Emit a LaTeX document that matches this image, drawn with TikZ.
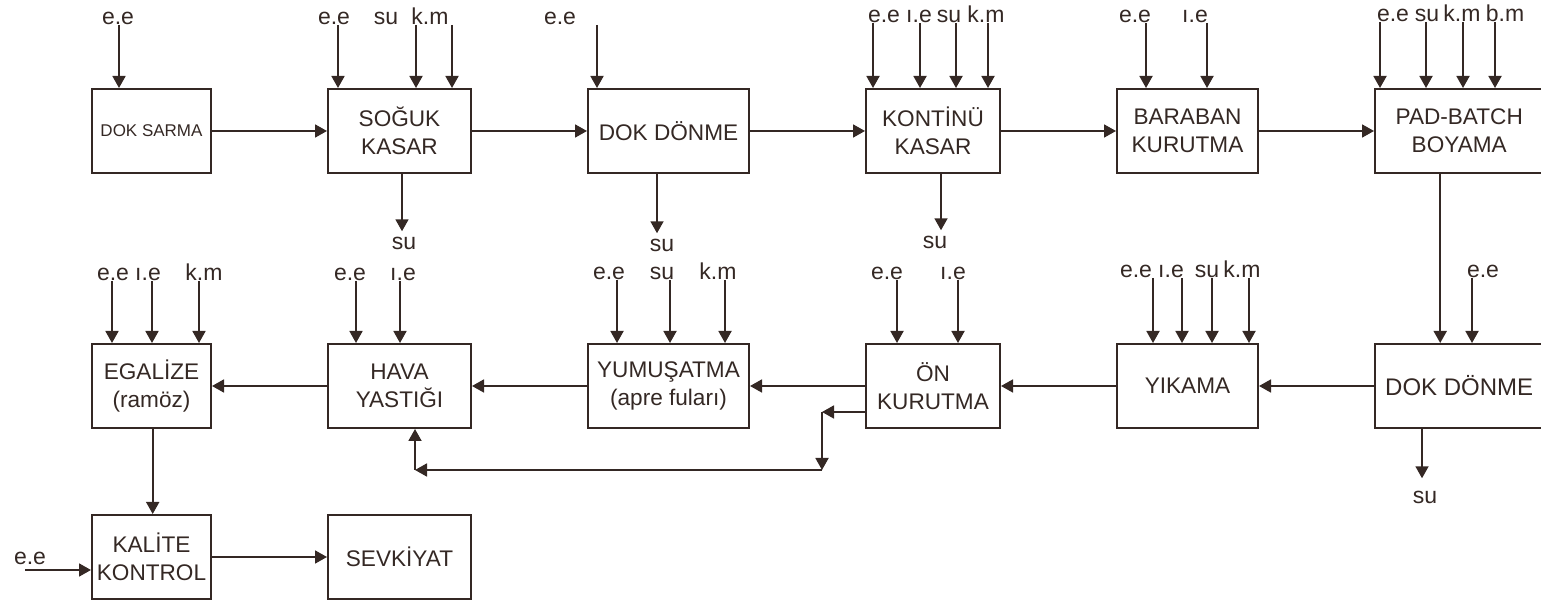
\documentclass[tikz,border=0pt]{standalone}
\usepackage{fontspec}
\setmainfont{Liberation Sans}
\definecolor{ink}{RGB}{52, 40, 36}
\usetikzlibrary{arrows.meta, positioning}
\tikzset{
	procbox/.style={rectangle, draw=ink, line width=1.2pt, text=ink, align=center, minimum height=41.8pt, inner sep=1.5pt, font=\fontsize{11.3}{13.8}\selectfont},
	inlabel/.style={inner sep=0pt, anchor=base, text=ink, font=\fontsize{11.5}{13}\selectfont},
	arrow/.style={-{Triangle[length=6pt, width=6.5pt]}, line width=0.9pt, draw=ink},
}

\begin{document}
\begin{tikzpicture}[x=0.5pt, y=-0.5pt, node distance=57.5pt]
	\useasboundingbox (0,0) rectangle (1541,603);
	% first row
	\node[procbox, minimum width=59.3pt, font=\fontsize{8.5}{10}\selectfont] (sarma) at (151.5,131) {DOK SARMA};
	\node[procbox, minimum width=71.3pt, right=of sarma] (soguk) {SOĞUK\\KASAR};
	\node[procbox, minimum width=80.3pt, right=of soguk] (donme1) {DOK DÖNME};
	\node[procbox, minimum width=66.8pt, right=of donme1] (kontinu) {KONTİNÜ\\KASAR};
	\node[procbox, minimum width=70.3pt, right=of kontinu] (baraban) {BARABAN\\KURUTMA};
	\node[procbox, minimum width=84pt, right=of baraban] (padbatch) {PAD-BATCH\\BOYAMA};
	% second row
	\node[procbox, minimum width=84pt, below=84.5pt of padbatch, font=\fontsize{12}{14}\selectfont] (donme2) {DOK DÖNME};
	\node[procbox, minimum width=70.3pt, left=of donme2] (yikama) {YIKAMA};
	\node[procbox, minimum width=66.8pt, left=of yikama] (onkurutma) {ÖN\\KURUTMA};
	\node[procbox, minimum width=80.3pt, left=of onkurutma] (yumusatma) {YUMUŞATMA\\(apre fuları)};
	\node[procbox, minimum width=71.3pt, left=of yumusatma] (hava) {HAVA\\YASTIĞI};
	\node[procbox, minimum width=59.3pt, left=of hava] (egalize) {EGALİZE\\(ramöz)};
	% third row
	\node[procbox, minimum width=59.3pt, below=42.5pt of egalize] (kalite) {KALİTE\\KONTROL};
	\node[procbox, minimum width=71.3pt, right=of kalite] (sevkiyat) {SEVKİYAT};

	\draw[arrow] (sarma) -- (soguk);
	\draw[arrow] (soguk) -- (donme1);
	\draw[arrow] (donme1) -- (kontinu);
	\draw[arrow] (kontinu) -- (baraban);
	\draw[arrow] (baraban) -- (padbatch);
	\draw[arrow] ([xshift=-9.5pt]padbatch.south) -- ([xshift=-9.5pt]donme2.north);
	\draw[arrow] (donme2) -- (yikama);
	\draw[arrow] (yikama) -- (onkurutma);
	\draw[arrow] (onkurutma) -- (yumusatma);
	\draw[arrow] (yumusatma) -- (hava);
	\draw[arrow] (hava) -- (egalize);
	\draw[arrow] ([xshift=0.6pt]egalize.south) -- ([xshift=0.6pt]kalite.north);
	\draw[arrow] (kalite) -- (sevkiyat);

	% return line under the second row
	\coordinate (ret1) at (822,412);
	\coordinate (ret2) at (822,470);
	\coordinate (ret3) at (415,470);
	\draw[arrow] (onkurutma.west |- ret1) -- (ret1);
	\draw[arrow] (ret1) -- (ret2);
	\draw[arrow] (ret2) -- (ret3);
	\draw[arrow] (ret3) -- (ret3 |- hava.south);

	% inputs, first row
	\node[inlabel] (sarma-in) at (118,25) {e.e};
	\draw[arrow] (sarma-in.base -| 119,0) -- (119,0 |- sarma.north);
	\foreach \t/\lx/\ax [count=\i] in {e.e/334/338, su/386/416, k.m/430/452} {
		\node[inlabel] (soguk-in\i) at (\lx,25) {\t};
		\draw[arrow] (soguk-in\i.base -| \ax,0) -- (\ax,0 |- soguk.north);
	}
	\node[inlabel] (donme1-in) at (560,25) {e.e};
	\draw[arrow] (donme1-in.base -| 597,0) -- (597,0 |- donme1.north);
	\foreach \t/\lx/\ax [count=\i] in {e.e/884/873, ı.e/919/920, su/949/956, k.m/986/988} {
		\node[inlabel] (kontinu-in\i) at (\lx,23) {\t};
		\draw[arrow] (kontinu-in\i.base -| \ax,0) -- (\ax,0 |- kontinu.north);
	}
	\foreach \t/\lx/\ax [count=\i] in {e.e/1135/1146, ı.e/1195/1207} {
		\node[inlabel] (baraban-in\i) at (\lx,23) {\t};
		\draw[arrow] (baraban-in\i.base -| \ax,0) -- (\ax,0 |- baraban.north);
	}
	\foreach \t/\lx/\ax [count=\i] in {e.e/1393/1380, su/1427/1426, k.m/1462/1463, b.m/1505/1495} {
		\node[inlabel] (padbatch-in\i) at (\lx,22) {\t};
		\draw[arrow] (padbatch-in\i.base -| \ax,0) -- (\ax,0 |- padbatch.north);
	}

	% inputs, second row
	\foreach \t/\lx/\ax [count=\i] in {e.e/113/112, ı.e/148/152, k.m/204/199} {
		\node[inlabel] (egalize-in\i) at (\lx,281) {\t};
		\draw[arrow] (egalize-in\i.base -| \ax,0) -- (\ax,0 |- egalize.north);
	}
	\foreach \t/\lx/\ax [count=\i] in {e.e/350/356, ı.e/403/400} {
		\node[inlabel] (hava-in\i) at (\lx,281) {\t};
		\draw[arrow] (hava-in\i.base -| \ax,0) -- (\ax,0 |- hava.north);
	}
	\foreach \t/\lx/\ax [count=\i] in {e.e/609/617, su/662/670, k.m/718/725} {
		\node[inlabel] (yumusatma-in\i) at (\lx,280) {\t};
		\draw[arrow] (yumusatma-in\i.base -| \ax,0) -- (\ax,0 |- yumusatma.north);
	}
	\foreach \t/\lx/\ax [count=\i] in {e.e/887/897, ı.e/953/958} {
		\node[inlabel] (onkurutma-in\i) at (\lx,280) {\t};
		\draw[arrow] (onkurutma-in\i.base -| \ax,0) -- (\ax,0 |- onkurutma.north);
	}
	\foreach \t/\lx/\ax [count=\i] in {e.e/1136/1153, ı.e/1171/1182, su/1207/1212, k.m/1242/1249} {
		\node[inlabel] (yikama-in\i) at (\lx,278) {\t};
		\draw[arrow] (yikama-in\i.base -| \ax,0) -- (\ax,0 |- yikama.north);
	}
	\node[inlabel] (donme2-in) at (1483,278) {e.e};
	\draw[arrow] (donme2-in.base -| 1472,0) -- (1472,0 |- donme2.north);

	\node[inlabel] (kalite-in) at (30,565) {e.e};
	\draw[arrow] ([xshift=-2.5pt, yshift=-2.5pt]kalite-in.base) -- ([yshift=-2.5pt]kalite-in.base -| kalite.west);

	% water out
	\node[inlabel] (soguk-out) at (404,250) {su};
	\draw[arrow, shorten >=3pt] (402,0 |- soguk.south) -- (402,0 |- soguk-out.north);
	\node[inlabel] (donme1-out) at (662,252) {su};
	\draw[arrow, shorten >=3pt] (657,0 |- donme1.south) -- (657,0 |- donme1-out.north);
	\node[inlabel] (kontinu-out) at (935,249) {su};
	\draw[arrow, shorten >=3pt] (941,0 |- kontinu.south) -- (941,0 |- kontinu-out.north);
	\node[inlabel] (donme2-out) at (1425,503) {su};
	\draw[arrow, shorten >=6pt] (1422,0 |- donme2.south) -- (1422,0 |- donme2-out.north);
\end{tikzpicture}
\end{document}
